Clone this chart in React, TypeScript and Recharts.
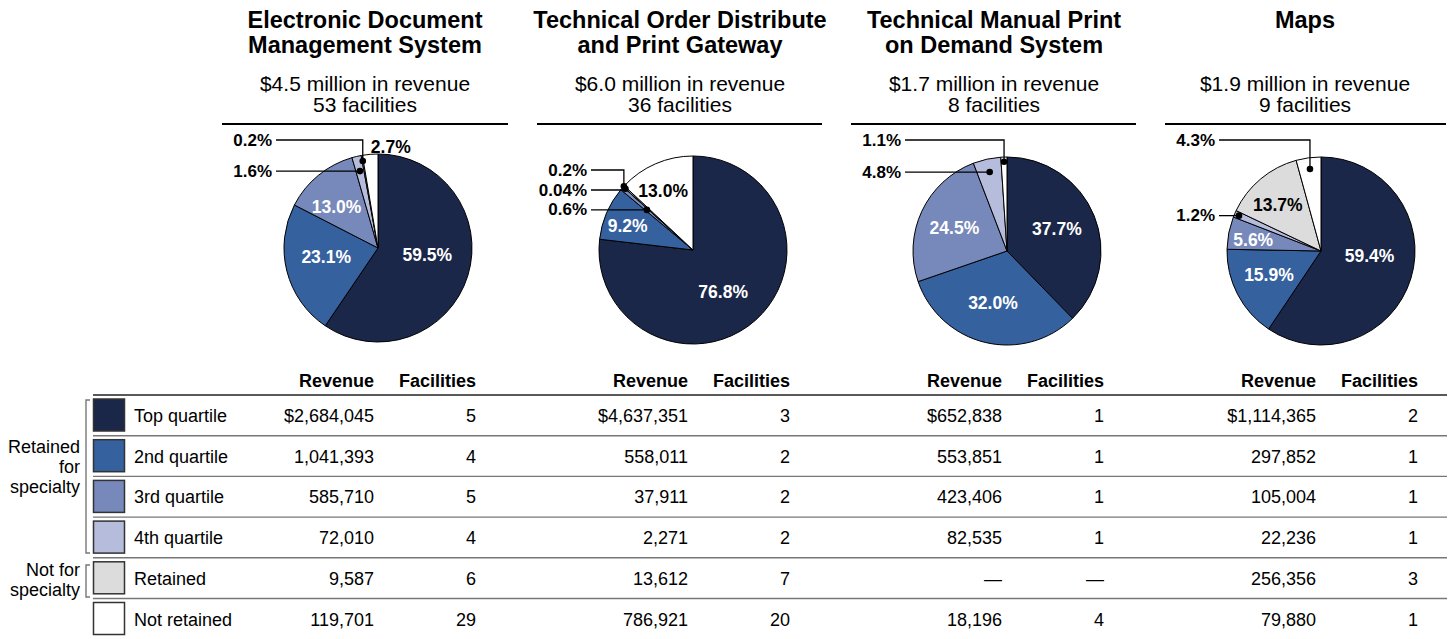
import { PieChart, Pie, Cell } from "recharts";

const FONT = '"Liberation Sans", Arial, Helvetica, sans-serif';

const categories = ["Top quartile", "2nd quartile", "3rd quartile", "4th quartile", "Retained", "Not retained"];
const colors = ["#1b2749", "#36619f", "#7788ba", "#b6bcdc", "#dcdcdc", "#ffffff"];

const systemTitles = [
  ["Electronic Document", "Management System"],
  ["Technical Order Distribute", "and Print Gateway"],
  ["Technical Manual Print", "on Demand System"],
  ["Maps"],
];
const revenueTotals = ["$4.5 million in revenue", "$6.0 million in revenue", "$1.7 million in revenue", "$1.9 million in revenue"];
const facilityTotals = ["53 facilities", "36 facilities", "8 facilities", "9 facilities"];

// revenue by category (null = no facilities)
const edmsRevenue = [2684045, 1041393, 585710, 72010, 9587, 119701];
const todpgRevenue = [4637351, 558011, 37911, 2271, 13612, 786921];
const tmpodRevenue = [652838, 553851, 423406, 82535, null, 18196];
const mapsRevenue = [1114365, 297852, 105004, 22236, 256356, 79880];

const edmsFacilities = [5, 4, 5, 4, 6, 29];
const todpgFacilities = [3, 2, 2, 2, 7, 20];
const tmpodFacilities = [1, 1, 1, 1, null, 4];
const mapsFacilities = [2, 1, 1, 1, 3, 1];

const edmsPct = ["59.5%", "23.1%", "13.0%", "1.6%", "0.2%", "2.7%"];
const todpgPct = ["76.8%", "9.2%", "0.6%", "0.04%", "0.2%", "13.0%"];
const tmpodPct = ["37.7%", "32.0%", "24.5%", "4.8%", "", "1.1%"];
const mapsPct = ["59.4%", "15.9%", "5.6%", "1.2%", "13.7%", "4.3%"];

const revenues = [edmsRevenue, todpgRevenue, tmpodRevenue, mapsRevenue];
const facilities = [edmsFacilities, todpgFacilities, tmpodFacilities, mapsFacilities];
const pcts = [edmsPct, todpgPct, tmpodPct, mapsPct];

// label placement: in = inside slice, call = leader line with dot, out = plain text outside
type LabelSpec = { kind: "in" | "call" | "out"; r: number; da?: number; dark?: boolean; elbow?: number };
const labelLayout: LabelSpec[][] = [
  [
    { kind: "in", r: 0.53, da: 9 },
    { kind: "in", r: 0.56, da: -4 },
    { kind: "in", r: 0.62, da: 6 },
    { kind: "call", r: 0.84 },
    { kind: "call", r: 0.94, elbow: -108 },
    { kind: "out", r: 1.08, da: -12 },
  ],
  [
    { kind: "in", r: 0.55, da: -6 },
    { kind: "in", r: 0.74, da: 3 },
    { kind: "call", r: 0.65 },
    { kind: "call", r: 0.97, elbow: -60 },
    { kind: "call", r: 1.0, elbow: -80 },
    { kind: "in", r: 0.7, da: 3.5, dark: true },
  ],
  [
    { kind: "in", r: 0.58, da: 1.6 },
    { kind: "in", r: 0.57, da: -1.8 },
    { kind: "in", r: 0.61, da: 1.5 },
    { kind: "call", r: 0.86 },
    { kind: "call", r: 0.9 },
    { kind: "call", r: 0.95, elbow: -111 },
  ],
  [
    { kind: "in", r: 0.52, da: 11 },
    { kind: "in", r: 0.61, da: -2.7 },
    { kind: "in", r: 0.73, da: 2 },
    { kind: "call", r: 0.95 },
    { kind: "in", r: 0.67, da: 3.4, dark: true },
    { kind: "call", r: 0.88, elbow: -111 },
  ],
];

const pieX = [378, 693, 1007, 1321];
const pieY = [248, 250, 251, 251];
const titleX = [365, 680, 994, 1305];
const ruleX = [
  [222, 508],
  [537, 822],
  [851, 1136],
  [1165, 1446],
];
const revColX = [374, 688, 1002, 1316];
const facColX = [476, 790, 1104, 1418];

const RAD = Math.PI / 180;
const ROW_TOP = 395;
const ROW_H = 40.7;

type Row = { cat: number; name: string; value: number; pct: string };

function pieRows(sys: number): Row[] {
  return categories
    .map((name, cat) => ({ cat, name, value: revenues[sys][cat] ?? 0, pct: pcts[sys][cat] }))
    .filter((r) => r.value > 0);
}

function renderLabel(sys: number, rows: Row[]) {
  return (p: any) => {
    const row = rows[p.index];
    if (!row) return null;
    const spec = labelLayout[sys][row.cat];
    const cx = Number(p.cx);
    const cy = Number(p.cy);
    const R = Number(p.outerRadius);
    const a = (p.midAngle + (spec.da ?? 0)) * RAD;
    const x = cx + spec.r * R * Math.cos(a);
    const y = cy - spec.r * R * Math.sin(a);
    const textStyle = { fontFamily: FONT, fontSize: 17, fontWeight: 700 };
    if (spec.kind === "call") {
      const ly = spec.elbow != null ? cy + spec.elbow : y;
      const x0 = cx - 102;
      return (
        <g key={`l-${sys}-${row.cat}`}>
          <polyline points={`${x0},${ly} ${x},${ly} ${x},${y}`} fill="none" stroke="#000" strokeWidth={1.3} />
          <circle cx={x} cy={y} r={3.3} fill="#000" />
          <text x={cx - 106} y={ly} textAnchor="end" dominantBaseline="central" fill="#000" style={textStyle}>
            {row.pct}
          </text>
        </g>
      );
    }
    const fill = spec.kind === "out" || spec.dark ? "#000" : "#fff";
    return (
      <text key={`l-${sys}-${row.cat}`} x={x} y={y} textAnchor="middle" dominantBaseline="central" fill={fill} style={{ ...textStyle, fontSize: 17.5 }}>
        {row.pct}
      </text>
    );
  };
}

function fmtRevenue(v: number | null, cat: number) {
  if (v == null) return "\u2014";
  const s = v.toLocaleString("en-US");
  return cat === 0 ? "$" + s : s;
}

function Overlay() {
  const t = { fontFamily: FONT, fill: "#000" };
  return (
    <svg width={1450} height={639} style={{ position: "absolute", left: 0, top: 0, pointerEvents: "none" }}>
      {systemTitles.map((lines, i) => (
        <g key={`t${i}`}>
          {lines.map((ln, j) => (
            <text key={j} x={titleX[i]} y={28 + j * 25} textAnchor="middle" style={{ ...t, fontSize: 23.5, fontWeight: 700 }}>
              {ln}
            </text>
          ))}
          <text x={titleX[i]} y={91} textAnchor="middle" style={{ ...t, fontSize: 21 }}>
            {revenueTotals[i]}
          </text>
          <text x={titleX[i]} y={112} textAnchor="middle" style={{ ...t, fontSize: 21 }}>
            {facilityTotals[i]}
          </text>
          <line x1={ruleX[i][0]} x2={ruleX[i][1]} y1={124} y2={124} stroke="#000" strokeWidth={2} />
          <text x={revColX[i]} y={387} textAnchor="end" style={{ ...t, fontSize: 18, fontWeight: 700 }}>
            Revenue
          </text>
          <text x={facColX[i]} y={387} textAnchor="end" style={{ ...t, fontSize: 18, fontWeight: 700 }}>
            Facilities
          </text>
          {categories.map((_, c) => (
            <g key={c}>
              <text x={revColX[i]} y={ROW_TOP + c * ROW_H + 27} textAnchor="end" style={{ ...t, fontSize: 18 }}>
                {fmtRevenue(revenues[i][c], c)}
              </text>
              <text x={facColX[i]} y={ROW_TOP + c * ROW_H + 27} textAnchor="end" style={{ ...t, fontSize: 18 }}>
                {facilities[i][c] == null ? "\u2014" : String(facilities[i][c])}
              </text>
            </g>
          ))}
        </g>
      ))}
      {categories.map((name, c) => {
        const top = ROW_TOP + c * ROW_H;
        return (
          <g key={`r${c}`}>
            <line x1={93} x2={1447} y1={top} y2={top} stroke={c === 0 ? "#222" : "#777"} strokeWidth={c === 0 ? 1.5 : 1.4} />
            <rect x={93.5} y={top + 4} width={31} height={32} fill={colors[c]} stroke="#333" strokeWidth={1.5} />
            <text x={134} y={top + 27} style={{ ...t, fontSize: 18 }}>
              {name}
            </text>
          </g>
        );
      })}
      <path d="M90,400 H86 V553 H90" fill="none" stroke="#777" strokeWidth={1.4} />
      <path d="M90,565 H86 V597 H90" fill="none" stroke="#777" strokeWidth={1.4} />
      {["Retained", "for", "specialty"].map((s, k) => (
        <text key={s} x={80} y={453 + k * 20} textAnchor="end" style={{ ...t, fontSize: 18 }}>
          {s}
        </text>
      ))}
      {["Not for", "specialty"].map((s, k) => (
        <text key={s} x={80} y={576 + k * 20} textAnchor="end" style={{ ...t, fontSize: 18 }}>
          {s}
        </text>
      ))}
    </svg>
  );
}

export default function App() {
  return (
    <div style={{ position: "absolute", left: 0, top: 0, width: 1450, height: 639, background: "#fff" }}>
      <PieChart width={1450} height={639} margin={{ top: 0, right: 0, bottom: 0, left: 0 }}>
        {revenues.map((_, sys) => {
          const rows = pieRows(sys);
          return (
            <Pie
              key={sys}
              data={rows}
              dataKey="value"
              nameKey="name"
              cx={pieX[sys]}
              cy={pieY[sys]}
              outerRadius={94}
              startAngle={90}
              endAngle={-270}
              stroke="#000"
              strokeWidth={1}
              labelLine={false}
              label={renderLabel(sys, rows)}
              isAnimationActive={false}
            >
              {rows.map((r) => (
                <Cell key={r.cat} fill={colors[r.cat]} />
              ))}
            </Pie>
          );
        })}
      </PieChart>
      <Overlay />
    </div>
  );
}
